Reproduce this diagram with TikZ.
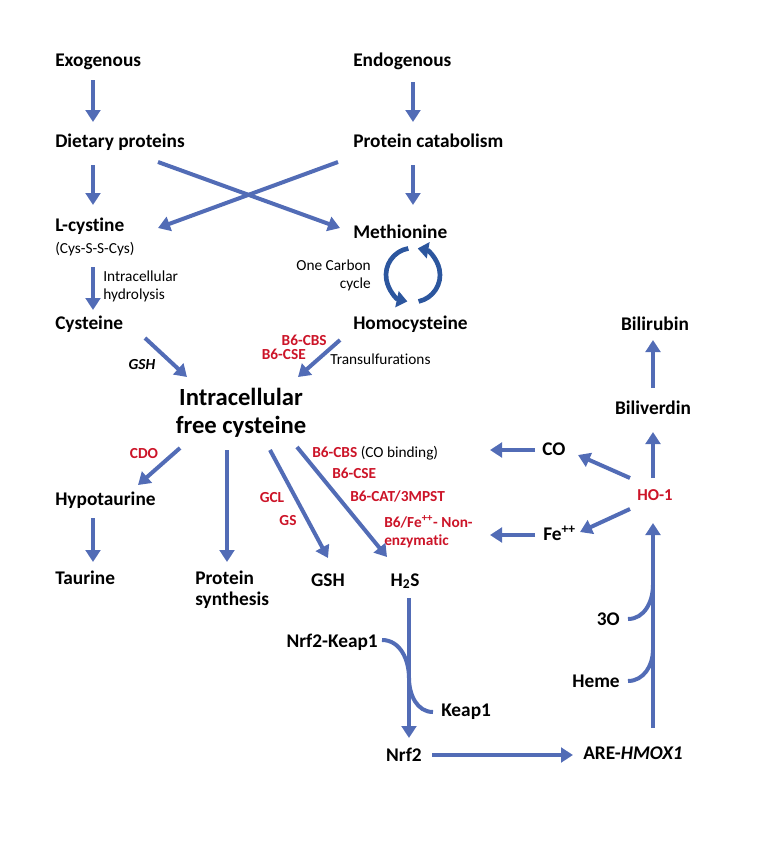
\documentclass[tikz,border=0pt]{standalone}
\usepackage{fontspec}
\setmainfont{Carlito}[Ligatures=NoCommon]
\usepackage{xcolor}
\usepackage{tikz}
\usetikzlibrary{arrows.meta,calc,positioning}

\definecolor{pathblue}{RGB}{82,108,182}
\definecolor{cycleblue}{RGB}{44,86,158}
\definecolor{enzred}{RGB}{204,20,40}

\tikzset{
    metab/.style={inner sep=0pt, font=\fontsize{14.5}{16}\selectfont\bfseries},
    note/.style={inner sep=0pt, font=\fontsize{11.5}{13.5}\selectfont},
    enzyme/.style={inner sep=0pt, text=enzred, font=\fontsize{11.5}{13.5}\selectfont\bfseries},
    flow/.style={line width=3pt, draw=pathblue, -{Triangle[width=11pt,length=9pt]}},
    link/.style={line width=3pt, draw=pathblue},
    turn/.style={line width=3.5pt, draw=cycleblue, -{Triangle[width=12pt,length=8pt]}}
}

\begin{document}
\begin{tikzpicture}[x=0.75pt,y=-0.75pt]
                \useasboundingbox (0,0) rectangle (764,865);

                \node[metab, anchor=base west] (exo) at (55,66) {Exogenous};
                \node[metab, anchor=base west] (endo) at (353,66) {Endogenous};
                \node[metab, anchor=base west] (diet) at (55,147) {Dietary proteins};
                \node[metab, anchor=base west] (cata) at (353,147) {Protein catabolism};
                \node[metab, anchor=base west] (lcys) at (55,231) {L-cystine};
                \node[note, anchor=base west] (cyss) at (55,253) {(Cys-S-S-Cys)};
                \node[metab, anchor=base west] (meth) at (353,238) {Methionine};
                \node[metab, anchor=base west] (cys) at (55,329) {Cysteine};
                \node[metab, anchor=base west] (homo) at (353,329) {Homocysteine};
                \node[note, anchor=west, align=left] (hydro) at (103,286) {Intracellular\\hydrolysis};
                \node[note, anchor=east, align=right] (onec) at (371,275) {One Carbon\\cycle};
                \node[inner sep=0pt, font=\fontsize{11.5}{13.5}\selectfont\bfseries\itshape, anchor=base] (gshcat) at (142,369) {GSH};
                \node[enzyme, anchor=base east] (cbsa) at (327,345) {B6-CBS};
                \node[enzyme, anchor=base east] (csea) at (306,359) {B6-CSE};
                \node[note, anchor=base west] (trans) at (330,364) {Transulfurations};

                \node[inner sep=0pt, align=center, font=\fontsize{18.5}{21}\selectfont\bfseries] (ifc) at (241,413) {Intracellular\\free cysteine};

                \node[enzyme, anchor=base] (cdo) at (144,458) {CDO};
                \node[metab, anchor=base west] (hypo) at (55,505) {Hypotaurine};
                \node[metab, anchor=base west] (tau) at (55,584) {Taurine};
                \node[metab, anchor=west, align=left] (psyn) at (195,590) {Protein\\synthesis};
                \node[enzyme, anchor=base] (gcl) at (272,502) {GCL};
                \node[enzyme, anchor=base] (gs) at (288,525) {GS};
                \node[metab, anchor=base] (gsh) at (328,586) {GSH};
                \node[metab, anchor=base] (h2s) at (405,586) {H\textsubscript{2}S};
                \node[enzyme, anchor=base west] (cbsb) at (312,457) {B6-CBS {\color{black}\mdseries (CO binding)}};
                \node[enzyme, anchor=base west] (cseb) at (332,478) {B6-CSE};
                \node[enzyme, anchor=base west] (cat) at (350,501) {B6-CAT/3MPST};
                \node[enzyme, anchor=west, align=left] (nonenz) at (384,532) {B6/Fe\textsuperscript{++}- Non-\\enzymatic};

                \node[metab, anchor=base] (br) at (655,330) {Bilirubin};
                \node[metab, anchor=base] (bv) at (653,414) {Biliverdin};
                \node[metab, anchor=base west] (co) at (542,455) {CO};
                \node[inner sep=0pt, text=enzred, font=\fontsize{12.5}{15}\selectfont\bfseries, anchor=base] (ho1) at (655,500) {HO-1};
                \node[metab, anchor=base west] (fe) at (543,540) {Fe\textsuperscript{++}};
                \node[metab, anchor=base east] (three) at (620,625) {3O};
                \node[metab, anchor=base east] (heme) at (620,687) {Heme};
                \node[metab, anchor=base west] (are) at (583,759) {ARE-\textit{HMOX1}};

                \node[metab, anchor=base east] (nk) at (378,647) {Nrf2-Keap1};
                \node[metab, anchor=base west] (keap) at (441,716) {Keap1};
                \node[metab, anchor=base] (nrf) at (404,761) {Nrf2};

                \coordinate (cofree) at (490,450);
                \coordinate (fefree) at (490,535);
                \coordinate (hub) at ($(meth.base west)+(60,37)$);
                \coordinate (j1) at ($(are.base west)+(70,-174)$);
                \coordinate (j2) at ($(are.base west)+(70,-109)$);
                \coordinate (nkmid) at ($(h2s.base)+(4,92)$);

                \draw[flow] ($(exo.base west)+(38,14)$) -- ($(diet.base west)+(38,-25)$);
                \draw[flow] ($(endo.base west)+(60,16)$) -- ($(cata.base west)+(60,-25)$);
                \draw[flow] ($(diet.base west)+(38,18)$) -- ($(lcys.base west)+(38,-26)$);
                \draw[flow] ($(cata.base west)+(60,18)$) -- ($(meth.base west)+(60,-33)$);
                \draw[flow] ($(diet.base west)+(103,15)$) -- ($(meth.base west)+(-13,-10)$);
                \draw[flow] ($(cata.base west)+(-15,15)$) -- ($(lcys.base west)+(103,-3)$);
                \draw[flow] ($(lcys.base west)+(38,36)$) -- ($(cys.base west)+(38,-19)$);

                \draw[turn] ($(hub)+(-100:27)$) arc[start angle=-100, end angle=-258, radius=27];
                \draw[turn] ($(hub)+(-282:27)$) arc[start angle=-282, end angle=-440, radius=27];

                \draw[flow] ($(cys.base west)+(90,9)$) -- ($(ifc.center)+(-54,-36)$);
                \draw[flow] ($(homo.base west)+(-13,11)$) -- ($(ifc.center)+(57,-36)$);

                \draw[flow] ($(ifc.center)+(-61,35)$) -- ($(hypo.base west)+(83,-20)$);
                \draw[flow] ($(hypo.base west)+(38,13)$) -- ($(tau.base west)+(38,-22)$);
                \draw[flow] ($(ifc.center)+(-14,37)$) -- ($(psyn.west)+(32,-28)$);
                \draw[flow] ($(ifc.center)+(29,37)$) -- ($(gsh.base)+(0,-28)$);
                \draw[flow] ($(ifc.center)+(56,34)$) -- ($(h2s.base)+(-18,-29)$);

                \draw[flow] ($(co.base west)+(-7,-5)$) -- (cofree);
                \draw[flow] ($(fe.base west)+(-8,-5)$) -- (fefree);
                \draw[flow] ($(ho1.base)+(-25,-22)$) -- ($(co.base west)+(36,0)$);
                \draw[flow] ($(ho1.base)+(-25,9)$) -- ($(fe.base west)+(37,-8)$);
                \draw[flow] ($(ho1.base)+(-2,-22)$) -- ($(bv.base)+(0,18)$);
                \draw[flow] ($(bv.base)+(0,-26)$) -- ($(br.base)+(-2,10)$);
                \draw[flow] ($(are.base west)+(70,-31)$) -- ($(ho1.base)+(-2,23)$);
                \draw[link] ($(three.base east)+(8,-6)$) to[out=0,in=-90] (j1);
                \draw[link] ($(heme.base east)+(8,-6)$) to[out=0,in=-90] (j2);

                \draw[flow] ($(h2s.base)+(4,12)$) -- ($(nrf.base)+(5,-23)$);
                \draw[link] ($(nk.base east)+(4,-7)$) to[out=0,in=90] (nkmid) to[out=-90,in=180] ($(keap.base west)+(-8,-4)$);
                \draw[flow] ($(nrf.base)+(28,-6)$) -- ($(are.base west)+(-10,-4)$);

            \end{tikzpicture}
\end{document}
